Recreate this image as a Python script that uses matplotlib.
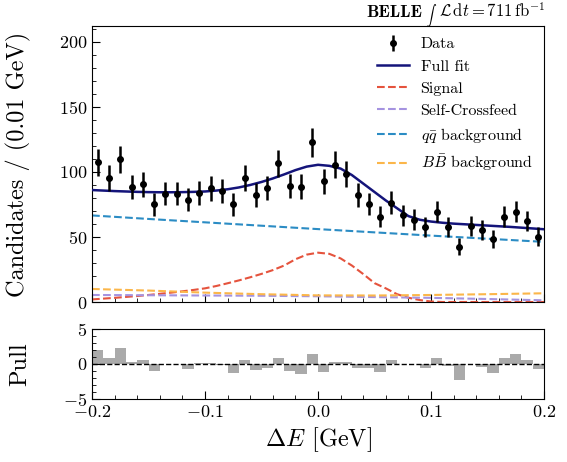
import numpy as np
import matplotlib
matplotlib.use("Agg")
import matplotlib.pyplot as plt
from matplotlib.ticker import MultipleLocator

plt.rcParams["font.family"] = "serif"
plt.rcParams["font.serif"] = ["cmr10"]
plt.rcParams["mathtext.fontset"] = "cm"
plt.rcParams["axes.formatter.use_mathtext"] = True

# data: candidates per 0.01 GeV bin
binCentres = np.arange(-0.195, 0.2, 0.01)
counts = [107.4, 95.4, 109.5, 88.5, 90.5, 75.1, 83.3, 83.3, 78.5, 83.6,
          87.2, 84.9, 75.1, 95.4, 82.3, 87.4, 106.4, 89.2, 88.7, 122.6,
          92.6, 105.4, 98.5, 82.3, 75.4, 65.6, 76.4, 66.7, 63.3, 57.4,
          69.5, 57.4, 42.3, 58.7, 55.4, 48.2, 65.6, 69.5, 62.3, 50.3]
pulls = [2.0, 0.9, 2.24, 0.29, 0.57, -0.95, 0.02, -0.03, -0.67, 0.08,
         0.14, -0.19, -1.29, 0.57, -0.86, -0.57, 0.9, -0.95, -1.43, 1.48,
         -1.14, 0.33, 0.24, -0.62, -0.62, -1.1, 0.62, 0.02, -0.05, -0.52,
         0.9, -0.33, -2.29, 0.02, -0.43, -1.24, 0.81, 1.38, 0.62, -0.71]

# fit components
xFine = np.linspace(-0.2, 0.2, 41)
fullFit = [86.0, 85.6, 85.2, 84.9, 84.6, 84.4, 84.3, 84.3, 84.4, 84.6,
           84.9, 85.6, 86.6, 88.0, 89.9, 92.2, 94.9, 98.0, 101.3, 104.0,
           105.4, 104.6, 102.5, 97.5, 91.0, 84.5, 78.0, 72.0, 66.0, 63.2,
           61.8, 60.9, 60.2, 59.7, 59.2, 58.7, 58.2, 57.7, 57.1, 56.5, 55.9]
signal = [2.0, 2.6, 3.2, 3.9, 4.6, 5.4, 6.3, 7.2, 8.2, 9.3,
          10.5, 12.3, 14.4, 16.6, 19.0, 21.6, 24.5, 28.0, 32.8, 36.4,
          37.9, 37.0, 33.5, 28.0, 21.5, 14.5, 10.5, 6.0, 3.3, 1.5,
          0.4, 0, 0, 0, 0, 0, 0, 0, 0, 0, 0]
xCoarse = np.linspace(-0.2, 0.2, 9)
selfCrossfeed = [5.4, 5.2, 5.0, 4.8, 4.4, 3.8, 3.2, 2.3, 1.3]
qqBkg = [66.5, 63.8, 61.2, 58.6, 56.0, 53.5, 51.0, 48.6, 46.2]
bbBkg = [10.0, 8.8, 7.2, 6.0, 5.1, 5.0, 5.4, 6.0, 6.7]

fig = plt.figure(figsize=(5.67, 4.62), dpi=100)
ax = fig.add_axes([0.1623, 0.3463, 0.7971, 0.5974])
pullAx = fig.add_axes([0.1623, 0.1364, 0.7971, 0.1515])

dataPlot = ax.errorbar(binCentres, counts, yerr=np.sqrt(counts), fmt="o", color="black",
                       markersize=4, elinewidth=1.8, capsize=0, label="Data", zorder=5)
fitLine, = ax.plot(xFine, fullFit, color="#14147a", lw=1.8, label="Full fit", zorder=4)
sigLine, = ax.plot(xFine, signal, color="#e5533d", lw=1.5, ls="--", label="Signal")
scfLine, = ax.plot(xCoarse, selfCrossfeed, color="#a593e0", lw=1.5, ls="--", label="Self-Crossfeed")
qqLine, = ax.plot(xCoarse, qqBkg, color="#2b8cc4", lw=1.5, ls="--", label=r"$q\bar{q}$ background")
bbLine, = ax.plot(xCoarse, bbBkg, color="#fbb64a", lw=1.5, ls="--", label=r"$B\bar{B}$ background")

ax.set_xlim(-0.2, 0.2)
ax.set_ylim(0, 212)
ax.set_ylabel("Candidates / (0.01 GeV)", fontsize=17.5)
ax.yaxis.set_major_locator(MultipleLocator(50))
ax.yaxis.set_minor_locator(MultipleLocator(10))
ax.xaxis.set_major_locator(MultipleLocator(0.1))
ax.xaxis.set_minor_locator(MultipleLocator(0.02))
ax.tick_params(which="both", direction="in", labelsize=13)
ax.tick_params(which="major", length=6)
ax.tick_params(which="minor", length=3)
ax.tick_params(axis="x", labelbottom=False)

handles = [dataPlot, fitLine, sigLine, scfLine, qqLine, bbLine]
ax.legend(handles, [h.get_label() for h in handles], loc="upper right", frameon=False,
          fontsize=11.5, handlelength=2.0, handletextpad=0.7, borderaxespad=0.3,
          labelspacing=0.5)

pullAx.bar(binCentres, pulls, width=0.01, color="#aaaaaa")
pullAx.axhline(0, color="black", ls="--", lw=1.0)
pullAx.set_xlim(-0.2, 0.2)
pullAx.set_ylim(-5, 5)
pullAx.set_ylabel("Pull", fontsize=17.5)
pullAx.set_xlabel(r"$\Delta E$ [GeV]", fontsize=17.5)
pullAx.yaxis.set_major_locator(MultipleLocator(5))
pullAx.yaxis.set_minor_locator(MultipleLocator(1))
pullAx.xaxis.set_major_locator(MultipleLocator(0.1))
pullAx.xaxis.set_minor_locator(MultipleLocator(0.02))
pullAx.tick_params(which="both", direction="in", labelsize=13)
pullAx.tick_params(which="major", length=6)
pullAx.tick_params(which="minor", length=3)

ax.yaxis.set_label_coords(-0.135, 0.5)
pullAx.yaxis.set_label_coords(-0.135, 0.5)

# experiment label, built right to left (the cm integral sign is huge, so it gets its own smaller text)
figW, figH = fig.get_size_inches() * fig.dpi
baseY = 1 - 17 / figH
renderer = fig.canvas.get_renderer()
lumiText = fig.text(545 / figW, baseY, r"$\mathcal{L}\,\mathrm{d}t = 711\,\mathrm{fb}^{-1}$",
                    ha="right", va="baseline", fontsize=12)
xLeft = lumiText.get_window_extent(renderer).x0
intText = fig.text((xLeft - 1) / figW, baseY - 2 / figH, r"$\int$",
                   ha="right", va="baseline", fontsize=7)
xLeft = intText.get_window_extent(renderer).x0
fig.text((xLeft - 4) / figW, baseY, "BELLE", ha="right", va="baseline",
         fontsize=12.5, fontfamily="cmb10")

fig.savefig("out.png", dpi=100)
